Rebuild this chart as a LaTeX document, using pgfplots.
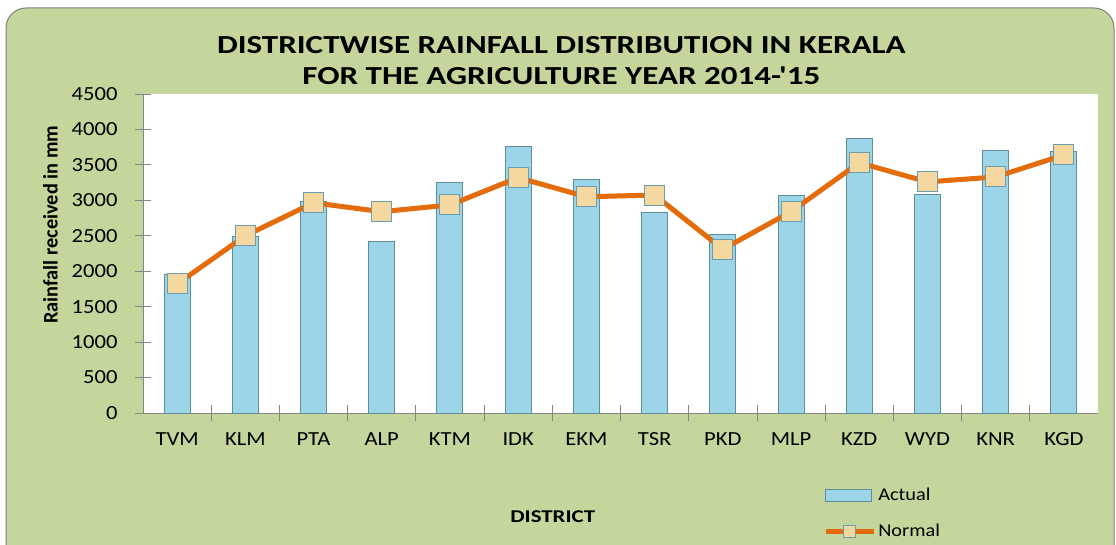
\documentclass[border=0pt]{standalone}
\usepackage{fontspec}
\setmainfont{Carlito}[FakeStretch=1.13]
\newfontfamily\wideb{Carlito}[FakeStretch=1.27, UprightFont=*-Bold]
\usepackage{pgfplots}
\pgfplotsset{compat=1.18}
\definecolor{bggreen}{HTML}{C4D69C}
\definecolor{barblue}{HTML}{9CD5E7}
\definecolor{baredge}{HTML}{5E8E9E}
\definecolor{lineor}{HTML}{E46C0A}
\definecolor{marktan}{HTML}{F5D8A0}
\definecolor{markedge}{HTML}{6A9DB0}
\definecolor{axgray}{HTML}{868686}
\pgfplotsset{
  barlegend/.style={legend image code/.code={\draw[##1] (0pt,-6pt) rectangle (46pt,6pt);}},
  linelegend/.style={legend image code/.code={\draw[##1, mark size=6pt, mark repeat=2, mark phase=2] plot coordinates {(0pt,0pt)(24pt,0pt)(48pt,0pt)};}},
}
\begin{document}
\begin{tikzpicture}
\clip (0pt,0pt) rectangle (1116pt,544pt);
\fill[white] (0pt,0pt) rectangle (1116pt,544pt);
\filldraw[fill=bggreen, draw=gray, line width=1pt, rounded corners=20pt] (6pt,-30pt) rectangle (1114pt,536pt);
\begin{axis}[
  at={(143pt,131pt)}, anchor=south west,
  scale only axis, width=955pt, height=319pt,
  axis background/.style={fill=white},
  xmin=-0.5, xmax=13.5, ymin=0, ymax=4500,
  axis x line=bottom, axis y line=left,
  axis line style={axgray, line width=0.8pt, -},
  xtick={0,...,13},
  xticklabels={TVM,KLM,PTA,ALP,KTM,IDK,EKM,TSR,PKD,MLP,KZD,WYD,KNR,KGD},
  minor xtick={0.5,1.5,...,12.5},
  ytick={0,500,...,4500},
  major x tick style={draw=none},
  tick style={axgray, line width=0.8pt},
  tick align=center,
  major tick length=16pt, minor tick length=16pt,
  /pgf/number format/assume math mode=true,
  /pgf/number format/1000 sep={},
  tick label style={font=\fontsize{20}{24}\selectfont, text=black},
  yticklabel style={anchor=east, xshift=-14pt},
  xticklabel style={yshift=-8pt},
  ylabel={\scalebox{1}[1.15]{Rainfall received in mm}},
  ylabel style={at={(axis description cs:-0.097,0.59)}, anchor=center, rotate=0, font=\bfseries\fontsize{18}{22}\selectfont},
  xlabel={DISTRICT},
  xlabel style={at={(axis description cs:0.429,-0.326)}, anchor=center, font=\wideb\fontsize{18}{22}\selectfont},
  title={DISTRICTWISE RAINFALL DISTRIBUTION IN KERALA\\FOR THE AGRICULTURE YEAR 2014-'15},
  title style={at={(axis description cs:0.438,1.087)}, anchor=center, align=center, font=\wideb\fontsize{26}{31}\selectfont},
  legend style={at={(axis description cs:0.709,-0.222)}, anchor=north west, draw=none, fill=none,
    font=\fontsize{18}{22}\selectfont, row sep=18pt, legend cell align=left},
  clip=false,
]
\addplot[ybar, bar width=26pt, fill=barblue, draw=baredge, line width=1pt, barlegend]
  coordinates {(0,1955)(1,2490)(2,2990)(3,2416)(4,3248)(5,3755)(6,3295)(7,2830)(8,2519)(9,3064)(10,3873)(11,3083)(12,3704)(13,3694)};
\addlegendentry{Actual}
\addplot[lineor, line width=5pt, mark=square*, mark size=10pt,
  mark options={solid, fill=marktan, draw=markedge, line width=1pt}, linelegend]
  coordinates {(0,1820)(1,2500)(2,2965)(3,2840)(4,2935)(5,3320)(6,3050)(7,3075)(8,2310)(9,2840)(10,3530)(11,3260)(12,3330)(13,3640)};
\addlegendentry{Normal}
\end{axis}
\end{tikzpicture}
\end{document}
